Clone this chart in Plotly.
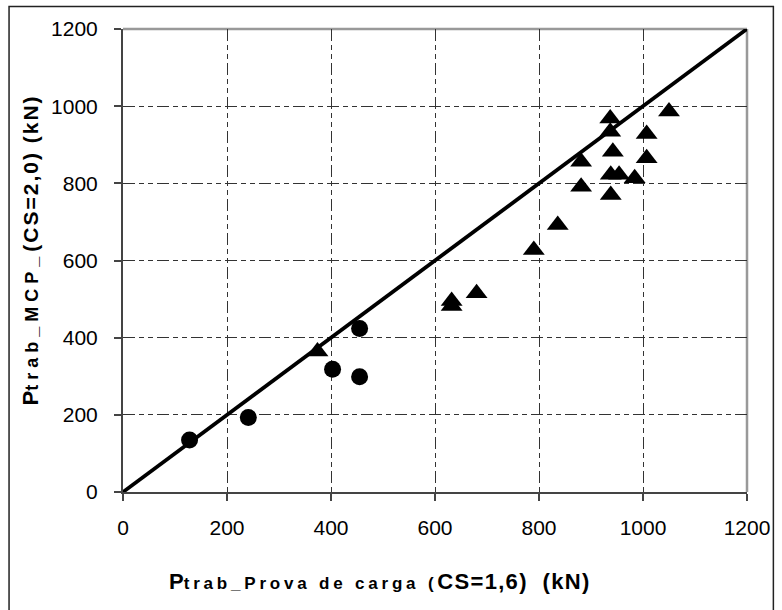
import plotly.graph_objects as go

# Data
circle_x = [128, 241, 403, 455, 455]
circle_y = [135, 193, 318, 424, 299]

tri_x = [374, 632, 632, 680, 790, 836, 881, 881, 937, 937, 942, 1007, 1007, 938, 954, 984, 938, 1050]
tri_y = [364, 495, 482, 515, 627, 692, 791, 856, 968, 934, 882, 928, 865, 822, 822, 813, 770, 986]

line_x = [0, 1200]
line_y = [0, 1200]

tick_vals = [0, 200, 400, 600, 800, 1000, 1200]
tick_text = ["0", "200", "400", "600", "800", "1000", "1200"]

FONT = "Liberation Sans, Arial, sans-serif"

fig = go.Figure()
fig.add_trace(go.Scatter(x=line_x, y=line_y, mode="lines",
                         line=dict(color="black", width=3.8), showlegend=False))
fig.add_trace(go.Scatter(x=circle_x, y=circle_y, mode="markers",
                         marker=dict(symbol="circle", size=17, color="black"), showlegend=False))
fig.add_trace(go.Scatter(x=tri_x, y=tri_y, mode="markers",
                         marker=dict(symbol="triangle-up", size=19, color="black"), showlegend=False))

L, R, T, B = 123, 32, 29, 118
W, H = 782, 610
pw, ph = W - L - R, H - T - B

grid_dash = "12px,4px,5px,4px,5px,4px"
axis_common = dict(
    range=[0, 1200], tickmode="array", tickvals=tick_vals, ticktext=tick_text,
    showgrid=True, gridcolor="#333333", gridwidth=1, griddash=grid_dash,
    zeroline=False, showline=True, linecolor="#444444", linewidth=2,
    ticks="outside", ticklen=7, tickcolor="#444444", tickwidth=1.5,
    tickfont=dict(family=FONT, size=21, color="black"),
    fixedrange=True,
)
fig.update_xaxes(**axis_common, ticklabelstandoff=9)
fig.update_yaxes(**axis_common, ticklabelstandoff=12)

shapes = [
    # top and right gray frame of the plot area
    dict(type="line", xref="paper", yref="paper", x0=0, x1=1, y0=1, y1=1,
         line=dict(color="#999999", width=2.5), layer="below"),
    dict(type="line", xref="paper", yref="paper", x0=1, x1=1, y0=0, y1=1,
         line=dict(color="#999999", width=2.5), layer="below"),
    # outer chart border
    dict(type="rect", xref="paper", yref="paper",
         x0=(8.5 - L) / pw, x1=(776.5 - L) / pw,
         y0=(H - B - 614) / ph, y1=(H - B - 6.5) / ph,
         line=dict(color="#222222", width=1.5)),
]

annotations = [
    dict(xref="paper", yref="paper", x=(381 - L) / pw, y=(H - B - 581) / ph,
         xanchor="center", yanchor="middle", showarrow=False,
         text="<b><span style='font-size:22px'>P</span>"
              "<span style='font-size:17px;letter-spacing:3.8px'>trab_Prova de carga (</span>"
              "<span style='font-size:22px;letter-spacing:1.3px'>CS=1,6)  (kN)</span></b>",
         font=dict(family=FONT, color="black")),
    dict(xref="paper", yref="paper", x=(30 - L) / pw, y=(H - B - 250) / ph,
         xanchor="center", yanchor="middle", showarrow=False, textangle=-90,
         text="<b><span style='font-size:22px'>P</span>"
              "<span style='font-size:18px;letter-spacing:5px'>trab_MCP_</span>"
              "<span style='font-size:21px;letter-spacing:2px'>(CS=2,0) (kN)</span></b>",
         font=dict(family=FONT, color="black")),
]

fig.update_layout(
    width=W, height=H,
    margin=dict(l=L, r=R, t=T, b=B, pad=0),
    paper_bgcolor="white", plot_bgcolor="white",
    shapes=shapes, annotations=annotations,
    font=dict(family=FONT, color="black"),
)

fig.write_html("out.html", config={"displayModeBar": False},
               post_script="document.body.style.margin='0';")
